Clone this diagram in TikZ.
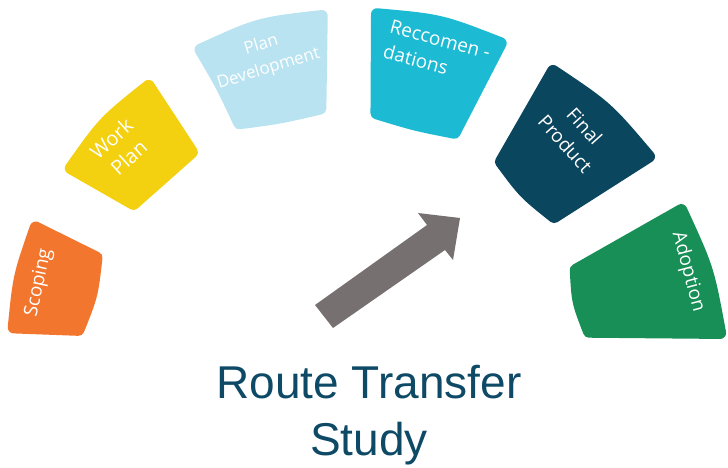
\documentclass[tikz,border=0pt]{standalone}
\usepackage{fontspec}
\setmainfont{Open Sans}
\newfontfamily\titlefont{Liberation Sans}
\usetikzlibrary{calc}
\definecolor{cOrange}{HTML}{F2762E}
\definecolor{cYellow}{HTML}{F3D010}
\definecolor{cLight}{HTML}{B9E3F1}
\definecolor{cTeal}{HTML}{1CBAD3}
\definecolor{cNavy}{HTML}{0B465F}
\definecolor{cGreen}{HTML}{178F56}
\definecolor{cArrow}{HTML}{777070}
\definecolor{cTitle}{HTML}{0E4A66}
\newcommand{\segshape}[9]{%
  \coordinate (sm) at ($0.25*(#2)+0.25*(#3)+0.25*(#4)+0.25*(#5)$);
  \coordinate (sa) at ($(#2)!8pt!(sm)$);
  \coordinate (sb) at ($(#3)!8pt!(sm)$);
  \coordinate (sc) at ($(#4)!8pt!(sm)$);
  \coordinate (sd) at ($(#5)!8pt!(sm)$);
  \filldraw[fill=#1, draw=#1, line width=12pt, line join=round]
    (sa) .. controls ($(sa)!0.5!(sb)!#6!90:(sb)$) .. (sb)
         .. controls ($(sb)!0.5!(sc)!#7!90:(sc)$) .. (sc)
         .. controls ($(sc)!0.5!(sd)!#8!90:(sd)$) .. (sd)
         .. controls ($(sd)!0.5!(sa)!#9!90:(sa)$) .. (sa) -- cycle;
}
\tikzset{
  segtext/.style={text=white, align=center, inner sep=0pt},
  titletext/.style={text=cTitle, anchor=base, inner sep=0pt, font=\titlefont\fontsize{46}{57}\selectfont}
}
\begin{document}
\begin{tikzpicture}[x=1pt, y=-1pt]
\useasboundingbox (0,0) rectangle (728,468);
% segments
\segshape{cOrange}{33,220}{103,253}{82,337}{8,333}{0pt}{5pt}{0pt}{6pt}
\segshape{cYellow}{150,78}{200,152}{133,212}{63,170}{0pt}{0pt}{0pt}{8pt}
\segshape{cLight}{193,47}{327,10}{327,113}{235,130}{10pt}{0pt}{2pt}{-2pt}
\segshape{cTeal}{372,8}{508,40}{458,140}{370,118}{9pt}{0pt}{2pt}{0pt}
\segshape{cNavy}{552,63}{657,157}{553,225}{493,163}{9pt}{0pt}{5pt}{0pt}
\segshape{cGreen}{568,268}{685,203}{727,337}{583,337}{0pt}{8pt}{0pt}{5pt}
% labels
\node[segtext, rotate=78, font=\fontsize{19}{24}\selectfont] (scoping) at (39,283) {Scoping};
\node[segtext, rotate=42, font=\fontsize{20}{26}\selectfont] (workplan) at (120,148) {Work\\Plan};
\node[segtext, rotate=17, font=\fontsize{17}{25}\selectfont] (plandev) at (265,57) {Plan\\Development};
\node[segtext, rotate=-15, align=left, font=\fontsize{19}{26}\selectfont] (recc) at (437,52) {Reccomen -\\dations};
\node[segtext, rotate=-48, font=\fontsize{19}{26}\selectfont] (final) at (575,135) {Final\\Product};
\node[segtext, rotate=-75, font=\fontsize{19}{24}\selectfont] (adoption) at (688,272) {Adoption};
% arrow
\fill[cArrow] (315,305) -- (427,225) -- (418,213) -- (460,218) -- (453,260) -- (445,250) -- (333,328) -- cycle;
% title
\node[titletext] (t1) at (369,398) {Route Transfer};
\node[titletext] (t2) at (369,455) {Study};
\end{tikzpicture}
\end{document}
